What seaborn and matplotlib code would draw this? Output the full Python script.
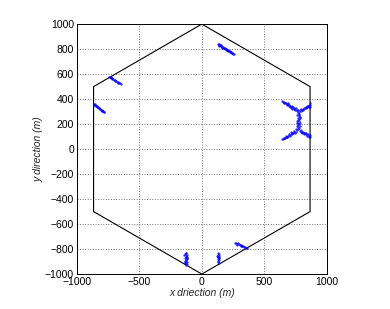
import numpy as np
import pandas as pd
import matplotlib
matplotlib.use('Agg')
import matplotlib.pyplot as plt
import seaborn as sns

# hexagonal cell outline (vertex angles, degrees) and radius in metres
hex_angles = [90, 30, -30, -90, -150, 150, 90]
hex_radius = 1000

# user positions, one list per cluster
top_x = [130, 135, 140, 145, 150, 155, 160, 168, 172, 178, 185, 190, 195, 200, 205, 210,
         215, 222, 228, 235, 240, 245, 250, 255, 138, 152, 165, 182, 198, 212, 226, 242]
top_y = [840, 837, 832, 830, 826, 825, 819, 817, 812, 811, 803, 803, 797, 796, 790, 790,
         783, 782, 775, 775, 768, 768, 762, 760, 828, 830, 812, 808, 792, 785, 779, 772]

upleft_x = [-745, -738, -730, -722, -715, -708, -700, -692, -685, -678, -670, -662, -655, -650,
            -725, -695, -668]
upleft_y = [580, 577, 570, 568, 562, 560, 553, 550, 545, 540, 535, 530, 525, 520,
            574, 548, 528]

left_x = [-866, -860, -855, -850, -845, -838, -832, -825, -820, -812, -805, -800, -795, -790,
          -785, -782, -858, -840, -818, -798]
left_y = [362, 355, 352, 345, 345, 337, 335, 328, 326, 318, 315, 310, 308, 303,
          300, 298, 360, 342, 322, 306]

right_x = [645, 652, 660, 665, 672, 680, 688, 695, 700, 708, 715, 722, 728, 735, 742, 750,
           758, 765, 770, 778, 660, 685, 705, 725, 748, 690, 718, 740,
           785, 792, 800, 808, 815, 822, 830, 838, 845, 852, 860, 866, 866, 855, 835, 812,
           795, 866,
           770, 778, 765, 775, 782, 768, 776, 770, 780, 772, 765, 778, 770, 782, 768, 776,
           772, 785, 760, 788, 762, 780,
           760, 750, 740, 730, 720, 710, 700, 690, 680, 670, 660, 650, 642, 755, 735, 715,
           695, 675, 655, 745, 725, 705, 685, 665,
           785, 795, 805, 815, 825, 835, 845, 855, 866, 866, 850, 830, 810, 790, 800, 820,
           840, 860]
right_y = [387, 380, 378, 370, 372, 360, 362, 350, 345, 348, 335, 330, 338, 322, 318, 325,
           312, 305, 315, 300, 365, 352, 335, 322, 310, 372, 345, 330,
           310, 318, 315, 322, 330, 328, 335, 342, 338, 348, 350, 355, 340, 335, 325, 315,
           305, 365,
           290, 282, 275, 265, 258, 250, 240, 230, 222, 212, 205, 198, 190, 182, 175, 168,
           160, 245, 225, 210, 185, 275,
           150, 140, 135, 130, 125, 118, 112, 108, 100, 95, 88, 82, 78, 160, 145, 135,
           120, 108, 92, 128, 118, 105, 95, 85,
           145, 140, 135, 128, 125, 118, 112, 105, 100, 115, 122, 130, 140, 155, 125, 118,
           105, 95]

botleft_x = [-130, -125, -135, -120, -130, -128, -138, -122, -130, -125, -135, -118, -128, -132,
             -122, -128, -140, -115, -120, -135]
botleft_y = [-828, -835, -842, -848, -855, -862, -868, -872, -880, -888, -895, -900, -905, -912,
             -918, -925, -850, -880, -860, -905]

botmid_x = [130, 135, 128, 138, 132, 126, 136, 130, 134, 128, 132, 138, 125, 140]
botmid_y = [-830, -838, -845, -852, -860, -866, -872, -880, -888, -895, -902, -908, -855, -870]

botright_x = [265, 272, 280, 288, 295, 302, 310, 318, 325, 332, 340, 348, 355, 360, 285, 315]
botright_y = [-748, -752, -758, -755, -762, -768, -765, -772, -775, -778, -780, -785, -788, -790,
              -765, -778]

users = pd.DataFrame({
    'x': top_x + upleft_x + left_x + right_x + botleft_x + botmid_x + botright_x,
    'y': top_y + upleft_y + left_y + right_y + botleft_y + botmid_y + botright_y,
})

sns.set_style('white')
plt.rcParams['font.family'] = ['Liberation Sans', 'DejaVu Sans']

fig = plt.figure(figsize=(3.9, 3.09), dpi=100)
ax = fig.add_axes([0.197, 0.113, 0.641, 0.809])

ang = np.deg2rad(hex_angles)
ax.plot(hex_radius * np.cos(ang), hex_radius * np.sin(ang), color='black', lw=0.8, zorder=2)

sns.scatterplot(data=users, x='x', y='y', ax=ax, color='blue', s=3, marker='o',
                linewidth=0, alpha=0.75, zorder=3)

ax.set_xlim(-1000, 1000)
ax.set_ylim(-1000, 1000)
ax.set_xticks([-1000, -500, 0, 500, 1000])
ax.set_yticks(np.arange(-1000, 1001, 200))
ax.grid(True, linestyle=':', color='#777777', lw=0.7)
ax.tick_params(direction='in', length=2, labelsize=7.5, colors='black', pad=2)
for s in ax.spines.values():
    s.set_color('black')
    s.set_linewidth(0.7)

ax.set_xlabel('x driection (m)', fontsize=7.5, style='italic', labelpad=1)
ax.set_ylabel('y direction (m)', fontsize=7.5, style='italic', labelpad=1)

fig.savefig('out.png', dpi=100)
